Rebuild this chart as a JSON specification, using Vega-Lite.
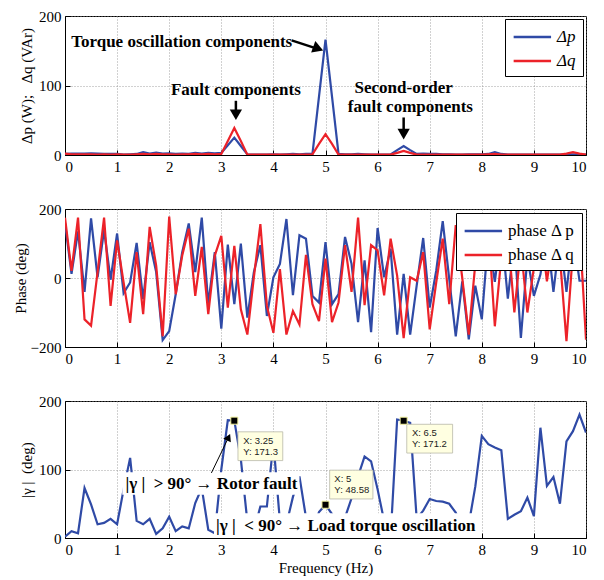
{
  "$schema": "https://vega.github.io/schema/vega-lite/v6.json",
  "background": "white",
  "padding": {"left": 12, "top": 8, "right": 14, "bottom": 4},
  "spacing": 26,
  "config": {
    "font": "Liberation Serif",
    "view": {"stroke": "black", "strokeWidth": 1},
    "axis": {
      "labelFont": "Liberation Serif", "labelFontSize": 15, "labelColor": "black",
      "titleFont": "Liberation Serif", "titleFontSize": 15, "titleFontWeight": "normal", "titleColor": "black",
      "domainColor": "black", "tickColor": "black", "tickSize": -5, "labelPadding": 9,
      "grid": true, "gridColor": "#8a8a8a", "gridDash": [1, 2], "gridWidth": 0.8
    },
    "legend": {
      "orient": "top-right", "offset": 3, "fillColor": "white", "strokeColor": "black",
      "padding": 7, "symbolType": "M-1,0H3", "symbolSize": 350, "symbolStrokeWidth": 2.5,
      "labelFont": "Liberation Serif", "labelFontSize": 17, "labelColor": "black",
      "rowPadding": 5, "labelOffset": 23
    }
  },
  "resolve": {"scale": {"color": "independent", "y": "independent"}, "legend": {"color": "independent"}},
  "datasets": {
    "mag": [
      {"f":0,"s":"Δp","v":1.5},{"f":0.125,"s":"Δp","v":2},{"f":0.25,"s":"Δp","v":2},{"f":0.375,"s":"Δp","v":2},{"f":0.5,"s":"Δp","v":2.5},{"f":0.625,"s":"Δp","v":2},{"f":0.75,"s":"Δp","v":1.5},{"f":0.875,"s":"Δp","v":1.5},{"f":1,"s":"Δp","v":1.5},{"f":1.125,"s":"Δp","v":0.5},{"f":1.25,"s":"Δp","v":1},{"f":1.375,"s":"Δp","v":1.5},{"f":1.5,"s":"Δp","v":4},{"f":1.625,"s":"Δp","v":2},{"f":1.75,"s":"Δp","v":3.5},{"f":1.875,"s":"Δp","v":2},{"f":2,"s":"Δp","v":2.5},{"f":2.125,"s":"Δp","v":1.5},{"f":2.25,"s":"Δp","v":2},{"f":2.375,"s":"Δp","v":1.5},{"f":2.5,"s":"Δp","v":3},{"f":2.625,"s":"Δp","v":2},{"f":2.75,"s":"Δp","v":3},{"f":2.875,"s":"Δp","v":2.5},{"f":3,"s":"Δp","v":3},{"f":3.125,"s":"Δp","v":14},{"f":3.25,"s":"Δp","v":25},{"f":3.375,"s":"Δp","v":13},{"f":3.5,"s":"Δp","v":1},{"f":3.625,"s":"Δp","v":0.5},{"f":3.75,"s":"Δp","v":0.5},{"f":3.875,"s":"Δp","v":0.5},{"f":4,"s":"Δp","v":1},{"f":4.125,"s":"Δp","v":0.5},{"f":4.25,"s":"Δp","v":1},{"f":4.375,"s":"Δp","v":1.5},{"f":4.5,"s":"Δp","v":1},{"f":4.625,"s":"Δp","v":1.5},{"f":4.75,"s":"Δp","v":2},{"f":4.875,"s":"Δp","v":84},{"f":5,"s":"Δp","v":166},{"f":5.125,"s":"Δp","v":84},{"f":5.25,"s":"Δp","v":1.5},{"f":5.375,"s":"Δp","v":1},{"f":5.5,"s":"Δp","v":1},{"f":5.625,"s":"Δp","v":1.5},{"f":5.75,"s":"Δp","v":1},{"f":5.875,"s":"Δp","v":0.5},{"f":6,"s":"Δp","v":0.5},{"f":6.125,"s":"Δp","v":0.5},{"f":6.25,"s":"Δp","v":1},{"f":6.375,"s":"Δp","v":7},{"f":6.5,"s":"Δp","v":13},{"f":6.625,"s":"Δp","v":7},{"f":6.75,"s":"Δp","v":1.5},{"f":6.875,"s":"Δp","v":2},{"f":7,"s":"Δp","v":1.5},{"f":7.125,"s":"Δp","v":1.5},{"f":7.25,"s":"Δp","v":1},{"f":7.375,"s":"Δp","v":1},{"f":7.5,"s":"Δp","v":0.5},{"f":7.625,"s":"Δp","v":0.5},{"f":7.75,"s":"Δp","v":1},{"f":7.875,"s":"Δp","v":1},{"f":8,"s":"Δp","v":1},{"f":8.125,"s":"Δp","v":1.5},{"f":8.25,"s":"Δp","v":4},{"f":8.375,"s":"Δp","v":1.5},{"f":8.5,"s":"Δp","v":0.5},{"f":8.625,"s":"Δp","v":0.5},{"f":8.75,"s":"Δp","v":0.5},{"f":8.875,"s":"Δp","v":0.5},{"f":9,"s":"Δp","v":0.5},{"f":9.125,"s":"Δp","v":0.5},{"f":9.25,"s":"Δp","v":0.5},{"f":9.375,"s":"Δp","v":0.5},{"f":9.5,"s":"Δp","v":0.5},{"f":9.625,"s":"Δp","v":1},{"f":9.75,"s":"Δp","v":1},{"f":9.875,"s":"Δp","v":0.5},{"f":10,"s":"Δp","v":0.5},
      {"f":0,"s":"Δq","v":2},{"f":0.125,"s":"Δq","v":1},{"f":0.25,"s":"Δq","v":1},{"f":0.375,"s":"Δq","v":1},{"f":0.5,"s":"Δq","v":1},{"f":0.625,"s":"Δq","v":0.5},{"f":0.75,"s":"Δq","v":1},{"f":0.875,"s":"Δq","v":0.5},{"f":1,"s":"Δq","v":1},{"f":1.125,"s":"Δq","v":0.5},{"f":1.25,"s":"Δq","v":0.5},{"f":1.375,"s":"Δq","v":1},{"f":1.5,"s":"Δq","v":1.5},{"f":1.625,"s":"Δq","v":1},{"f":1.75,"s":"Δq","v":1.5},{"f":1.875,"s":"Δq","v":1},{"f":2,"s":"Δq","v":1},{"f":2.125,"s":"Δq","v":0.5},{"f":2.25,"s":"Δq","v":1},{"f":2.375,"s":"Δq","v":1},{"f":2.5,"s":"Δq","v":1.5},{"f":2.625,"s":"Δq","v":1},{"f":2.75,"s":"Δq","v":1.5},{"f":2.875,"s":"Δq","v":1},{"f":3,"s":"Δq","v":1.5},{"f":3.125,"s":"Δq","v":20},{"f":3.25,"s":"Δq","v":39},{"f":3.375,"s":"Δq","v":20},{"f":3.5,"s":"Δq","v":0.5},{"f":3.625,"s":"Δq","v":0.5},{"f":3.75,"s":"Δq","v":0.5},{"f":3.875,"s":"Δq","v":0.5},{"f":4,"s":"Δq","v":0.5},{"f":4.125,"s":"Δq","v":0.5},{"f":4.25,"s":"Δq","v":0.5},{"f":4.375,"s":"Δq","v":0.5},{"f":4.5,"s":"Δq","v":0.5},{"f":4.625,"s":"Δq","v":0.5},{"f":4.75,"s":"Δq","v":1},{"f":4.875,"s":"Δq","v":16},{"f":5,"s":"Δq","v":30},{"f":5.125,"s":"Δq","v":16},{"f":5.25,"s":"Δq","v":0.5},{"f":5.375,"s":"Δq","v":0.5},{"f":5.5,"s":"Δq","v":0.5},{"f":5.625,"s":"Δq","v":0.5},{"f":5.75,"s":"Δq","v":0.5},{"f":5.875,"s":"Δq","v":0.5},{"f":6,"s":"Δq","v":0.5},{"f":6.125,"s":"Δq","v":0.5},{"f":6.25,"s":"Δq","v":0.5},{"f":6.375,"s":"Δq","v":3},{"f":6.5,"s":"Δq","v":6},{"f":6.625,"s":"Δq","v":3},{"f":6.75,"s":"Δq","v":0.5},{"f":6.875,"s":"Δq","v":0.5},{"f":7,"s":"Δq","v":0.5},{"f":7.125,"s":"Δq","v":0.5},{"f":7.25,"s":"Δq","v":0.5},{"f":7.375,"s":"Δq","v":0.5},{"f":7.5,"s":"Δq","v":0.5},{"f":7.625,"s":"Δq","v":0.5},{"f":7.75,"s":"Δq","v":0.5},{"f":7.875,"s":"Δq","v":0.5},{"f":8,"s":"Δq","v":0.5},{"f":8.125,"s":"Δq","v":1},{"f":8.25,"s":"Δq","v":1.5},{"f":8.375,"s":"Δq","v":0.5},{"f":8.5,"s":"Δq","v":0.5},{"f":8.625,"s":"Δq","v":0.5},{"f":8.75,"s":"Δq","v":0.5},{"f":8.875,"s":"Δq","v":0.5},{"f":9,"s":"Δq","v":0.5},{"f":9.125,"s":"Δq","v":0.5},{"f":9.25,"s":"Δq","v":0.5},{"f":9.375,"s":"Δq","v":0.5},{"f":9.5,"s":"Δq","v":0.5},{"f":9.625,"s":"Δq","v":2},{"f":9.75,"s":"Δq","v":4},{"f":9.875,"s":"Δq","v":2},{"f":10,"s":"Δq","v":0.5}
    ],
    "phase": [
      {"f":0,"s":"phase Δ p","v":160},{"f":0.125,"s":"phase Δ p","v":12},{"f":0.25,"s":"phase Δ p","v":135},{"f":0.375,"s":"phase Δ p","v":-40},{"f":0.5,"s":"phase Δ p","v":173},{"f":0.625,"s":"phase Δ p","v":2},{"f":0.75,"s":"phase Δ p","v":139},{"f":0.875,"s":"phase Δ p","v":-5},{"f":1,"s":"phase Δ p","v":129},{"f":1.125,"s":"phase Δ p","v":-44},{"f":1.25,"s":"phase Δ p","v":-13},{"f":1.375,"s":"phase Δ p","v":102},{"f":1.5,"s":"phase Δ p","v":-61},{"f":1.625,"s":"phase Δ p","v":104},{"f":1.75,"s":"phase Δ p","v":17},{"f":1.875,"s":"phase Δ p","v":-180},{"f":2,"s":"phase Δ p","v":-154},{"f":2.125,"s":"phase Δ p","v":-47},{"f":2.25,"s":"phase Δ p","v":75},{"f":2.375,"s":"phase Δ p","v":158},{"f":2.5,"s":"phase Δ p","v":17},{"f":2.625,"s":"phase Δ p","v":175},{"f":2.75,"s":"phase Δ p","v":-76},{"f":2.875,"s":"phase Δ p","v":75},{"f":3,"s":"phase Δ p","v":-147},{"f":3.125,"s":"phase Δ p","v":97},{"f":3.25,"s":"phase Δ p","v":-76},{"f":3.375,"s":"phase Δ p","v":100},{"f":3.5,"s":"phase Δ p","v":-115},{"f":3.625,"s":"phase Δ p","v":17},{"f":3.75,"s":"phase Δ p","v":95},{"f":3.875,"s":"phase Δ p","v":-110},{"f":4,"s":"phase Δ p","v":2},{"f":4.125,"s":"phase Δ p","v":41},{"f":4.25,"s":"phase Δ p","v":171},{"f":4.375,"s":"phase Δ p","v":-50},{"f":4.5,"s":"phase Δ p","v":124},{"f":4.625,"s":"phase Δ p","v":114},{"f":4.75,"s":"phase Δ p","v":-52},{"f":4.875,"s":"phase Δ p","v":-71},{"f":5,"s":"phase Δ p","v":104},{"f":5.125,"s":"phase Δ p","v":-76},{"f":5.25,"s":"phase Δ p","v":-47},{"f":5.375,"s":"phase Δ p","v":119},{"f":5.5,"s":"phase Δ p","v":41},{"f":5.625,"s":"phase Δ p","v":-128},{"f":5.75,"s":"phase Δ p","v":51},{"f":5.875,"s":"phase Δ p","v":-157},{"f":6,"s":"phase Δ p","v":145},{"f":6.125,"s":"phase Δ p","v":2},{"f":6.25,"s":"phase Δ p","v":85},{"f":6.375,"s":"phase Δ p","v":-164},{"f":6.5,"s":"phase Δ p","v":12},{"f":6.625,"s":"phase Δ p","v":-164},{"f":6.75,"s":"phase Δ p","v":-22},{"f":6.875,"s":"phase Δ p","v":116},{"f":7,"s":"phase Δ p","v":-86},{"f":7.125,"s":"phase Δ p","v":21},{"f":7.25,"s":"phase Δ p","v":165},{"f":7.375,"s":"phase Δ p","v":-3},{"f":7.5,"s":"phase Δ p","v":-169},{"f":7.625,"s":"phase Δ p","v":-10},{"f":7.75,"s":"phase Δ p","v":-178},{"f":7.875,"s":"phase Δ p","v":-22},{"f":8,"s":"phase Δ p","v":-120},{"f":8.125,"s":"phase Δ p","v":120},{"f":8.25,"s":"phase Δ p","v":-11},{"f":8.375,"s":"phase Δ p","v":140},{"f":8.5,"s":"phase Δ p","v":-60},{"f":8.625,"s":"phase Δ p","v":110},{"f":8.75,"s":"phase Δ p","v":-174},{"f":8.875,"s":"phase Δ p","v":60},{"f":9,"s":"phase Δ p","v":-52},{"f":9.125,"s":"phase Δ p","v":10},{"f":9.25,"s":"phase Δ p","v":130},{"f":9.375,"s":"phase Δ p","v":-40},{"f":9.5,"s":"phase Δ p","v":120},{"f":9.625,"s":"phase Δ p","v":-40},{"f":9.75,"s":"phase Δ p","v":130},{"f":9.875,"s":"phase Δ p","v":-8},{"f":10,"s":"phase Δ p","v":-8},
      {"f":0,"s":"phase Δ q","v":175},{"f":0.125,"s":"phase Δ q","v":21},{"f":0.25,"s":"phase Δ q","v":175},{"f":0.375,"s":"phase Δ q","v":-120},{"f":0.5,"s":"phase Δ q","v":-138},{"f":0.625,"s":"phase Δ q","v":17},{"f":0.75,"s":"phase Δ q","v":175},{"f":0.875,"s":"phase Δ q","v":-81},{"f":1,"s":"phase Δ q","v":109},{"f":1.125,"s":"phase Δ q","v":-13},{"f":1.25,"s":"phase Δ q","v":-130},{"f":1.375,"s":"phase Δ q","v":75},{"f":1.5,"s":"phase Δ q","v":-105},{"f":1.625,"s":"phase Δ q","v":148},{"f":1.75,"s":"phase Δ q","v":36},{"f":1.875,"s":"phase Δ q","v":-169},{"f":2,"s":"phase Δ q","v":178},{"f":2.125,"s":"phase Δ q","v":-47},{"f":2.25,"s":"phase Δ q","v":65},{"f":2.375,"s":"phase Δ q","v":143},{"f":2.5,"s":"phase Δ q","v":-52},{"f":2.625,"s":"phase Δ q","v":90},{"f":2.75,"s":"phase Δ q","v":-105},{"f":2.875,"s":"phase Δ q","v":65},{"f":3,"s":"phase Δ q","v":122},{"f":3.125,"s":"phase Δ q","v":-86},{"f":3.25,"s":"phase Δ q","v":93},{"f":3.375,"s":"phase Δ q","v":-91},{"f":3.5,"s":"phase Δ q","v":-164},{"f":3.625,"s":"phase Δ q","v":2},{"f":3.75,"s":"phase Δ q","v":156},{"f":3.875,"s":"phase Δ q","v":-81},{"f":4,"s":"phase Δ q","v":-159},{"f":4.125,"s":"phase Δ q","v":26},{"f":4.25,"s":"phase Δ q","v":-164},{"f":4.375,"s":"phase Δ q","v":-96},{"f":4.5,"s":"phase Δ q","v":-135},{"f":4.625,"s":"phase Δ q","v":67},{"f":4.75,"s":"phase Δ q","v":-76},{"f":4.875,"s":"phase Δ q","v":-125},{"f":5,"s":"phase Δ q","v":56},{"f":5.125,"s":"phase Δ q","v":-128},{"f":5.25,"s":"phase Δ q","v":-71},{"f":5.375,"s":"phase Δ q","v":95},{"f":5.5,"s":"phase Δ q","v":-40},{"f":5.625,"s":"phase Δ q","v":175},{"f":5.75,"s":"phase Δ q","v":-79},{"f":5.875,"s":"phase Δ q","v":95},{"f":6,"s":"phase Δ q","v":80},{"f":6.125,"s":"phase Δ q","v":-50},{"f":6.25,"s":"phase Δ q","v":114},{"f":6.375,"s":"phase Δ q","v":7},{"f":6.5,"s":"phase Δ q","v":-174},{"f":6.625,"s":"phase Δ q","v":2},{"f":6.75,"s":"phase Δ q","v":-8},{"f":6.875,"s":"phase Δ q","v":75},{"f":7,"s":"phase Δ q","v":-149},{"f":7.125,"s":"phase Δ q","v":-13},{"f":7.25,"s":"phase Δ q","v":114},{"f":7.375,"s":"phase Δ q","v":-76},{"f":7.5,"s":"phase Δ q","v":153},{"f":7.625,"s":"phase Δ q","v":0},{"f":7.75,"s":"phase Δ q","v":-164},{"f":7.875,"s":"phase Δ q","v":41},{"f":8,"s":"phase Δ q","v":80},{"f":8.125,"s":"phase Δ q","v":150},{"f":8.25,"s":"phase Δ q","v":-140},{"f":8.375,"s":"phase Δ q","v":60},{"f":8.5,"s":"phase Δ q","v":130},{"f":8.625,"s":"phase Δ q","v":-100},{"f":8.75,"s":"phase Δ q","v":90},{"f":8.875,"s":"phase Δ q","v":-100},{"f":9,"s":"phase Δ q","v":30},{"f":9.125,"s":"phase Δ q","v":150},{"f":9.25,"s":"phase Δ q","v":-10},{"f":9.375,"s":"phase Δ q","v":120},{"f":9.5,"s":"phase Δ q","v":60},{"f":9.625,"s":"phase Δ q","v":-183},{"f":9.75,"s":"phase Δ q","v":80},{"f":9.875,"s":"phase Δ q","v":150},{"f":10,"s":"phase Δ q","v":-179}
    ],
    "gamma": [
      {"f":0,"v":2},{"f":0.125,"v":10},{"f":0.25,"v":7},{"f":0.375,"v":73},{"f":0.5,"v":49},{"f":0.625,"v":20},{"f":0.75,"v":22},{"f":0.875,"v":28},{"f":1,"v":20},{"f":1.125,"v":71},{"f":1.25,"v":117},{"f":1.375,"v":25},{"f":1.5,"v":20},{"f":1.625,"v":28},{"f":1.75,"v":6},{"f":1.875,"v":14},{"f":2,"v":31},{"f":2.125,"v":10},{"f":2.25,"v":17},{"f":2.375,"v":14},{"f":2.5,"v":51},{"f":2.625,"v":73},{"f":2.75,"v":12},{"f":2.875,"v":7},{"f":3,"v":100},{"f":3.125,"v":172},{"f":3.25,"v":171.3},{"f":3.375,"v":115},{"f":3.5,"v":24},{"f":3.625,"v":10},{"f":3.75,"v":46},{"f":3.875,"v":46},{"f":4,"v":140},{"f":4.125,"v":24},{"f":4.25,"v":20},{"f":4.375,"v":60},{"f":4.5,"v":90},{"f":4.625,"v":30},{"f":4.75,"v":10},{"f":4.875,"v":38},{"f":5,"v":48.58},{"f":5.125,"v":35},{"f":5.25,"v":10},{"f":5.375,"v":30},{"f":5.5,"v":58},{"f":5.625,"v":90},{"f":5.75,"v":119},{"f":5.875,"v":112},{"f":6,"v":71},{"f":6.125,"v":25},{"f":6.25,"v":2},{"f":6.375,"v":173},{"f":6.5,"v":171.2},{"f":6.625,"v":168},{"f":6.75,"v":28},{"f":6.875,"v":40},{"f":7,"v":57},{"f":7.125,"v":54},{"f":7.25,"v":53},{"f":7.375,"v":50},{"f":7.5,"v":37},{"f":7.625,"v":15},{"f":7.75,"v":20},{"f":7.875,"v":75},{"f":8,"v":149},{"f":8.125,"v":137},{"f":8.25,"v":132},{"f":8.375,"v":128},{"f":8.5,"v":28},{"f":8.625,"v":34},{"f":8.75,"v":39},{"f":8.875,"v":59},{"f":9,"v":32},{"f":9.125,"v":161},{"f":9.25,"v":76},{"f":9.375,"v":89},{"f":9.5,"v":50},{"f":9.625,"v":141},{"f":9.75,"v":156},{"f":9.875,"v":180},{"f":10,"v":154}
    ],
    "topText": [
      {"x":2.24,"y":162,"t":"Torque oscillation components"},
      {"x":3.28,"y":93,"t":"Fault components"},
      {"x":6.5,"y":96,"t":"Second-order"},
      {"x":6.63,"y":69,"t":"fault components"}
    ],
    "topArrows": [
      {"x1":4.35,"y1":165,"x2":4.88,"y2":152,"hx":4.86,"hy":153,"a":110},
      {"x1":3.28,"y1":78,"x2":3.28,"y2":60,"hx":3.28,"hy":58,"a":180},
      {"x1":6.5,"y1":54,"x2":6.5,"y2":33,"hx":6.5,"hy":30,"a":180}
    ],
    "botBoxes": [
      {"x1":1.1,"x2":4.5,"y1":63,"y2":96},
      {"x1":2.86,"x2":7.83,"y1":0,"y2":36}
    ],
    "botText": [
      {"x":1.16,"y":79,"t":"|γ |\u00a0\u00a0> 90° → Rotor fault"},
      {"x":2.9,"y":18,"t":"|γ |\u00a0\u00a0< 90° → Load torque oscillation"}
    ],
    "botArrow": [
      {"x1":2.81,"y1":95,"x2":3.14,"y2":147,"hx":3.14,"hy":147,"a":25}
    ],
    "tips": [
      {"x1":3.32,"x2":4.18,"y1":113,"y2":155},
      {"x1":5.08,"x2":5.91,"y1":57,"y2":99},
      {"x1":6.56,"x2":7.44,"y1":124,"y2":166}
    ],
    "tipText": [
      {"x":3.42,"y":142,"t":"X: 3.25"},{"x":3.42,"y":126,"t":"Y: 171.3"},
      {"x":5.17,"y":86,"t":"X: 5"},{"x":5.17,"y":70,"t":"Y: 48.58"},
      {"x":6.66,"y":153,"t":"X: 6.5"},{"x":6.66,"y":137,"t":"Y: 171.2"}
    ],
    "markers": [
      {"f":3.25,"v":171.3},{"f":5,"v":48.58},{"f":6.5,"v":171.2}
    ]
  },
  "vconcat": [
    {
      "width": 521, "height": 139,
      "layer": [
        {
          "data": {"name": "mag"},
          "mark": {"type": "line", "strokeWidth": 2.2, "clip": true},
          "encoding": {
            "x": {"field": "f", "type": "quantitative", "scale": {"domain": [0, 10], "nice": false}, "axis": {"values": [0,1,2,3,4,5,6,7,8,9,10], "title": null}},
            "y": {"field": "v", "type": "quantitative", "scale": {"domain": [0, 200], "nice": false}, "axis": {"values": [0, 100, 200], "title": "Δp (W);\u00a0\u00a0\u00a0Δq (VAr)", "titlePadding": 4}},
            "color": {"field": "s", "type": "nominal", "scale": {"domain": ["Δp", "Δq"], "range": ["#2f4aa6", "#ec2229"]}, "legend": {"title": null, "labelFontStyle": "italic"}}
          }
        },
        {
          "data": {"name": "topText"},
          "mark": {"type": "text", "font": "Liberation Serif", "fontWeight": "bold", "fontSize": 17, "color": "black", "align": "center", "baseline": "middle"},
          "encoding": {"x": {"field": "x", "type": "quantitative"}, "y": {"field": "y", "type": "quantitative"}, "text": {"field": "t"}}
        },
        {
          "data": {"name": "topArrows"},
          "mark": {"type": "rule", "strokeWidth": 2.5, "color": "black"},
          "encoding": {"x": {"field": "x1", "type": "quantitative"}, "x2": {"field": "x2"}, "y": {"field": "y1", "type": "quantitative"}, "y2": {"field": "y2"}}
        },
        {
          "data": {"name": "topArrows"},
          "mark": {"type": "point", "shape": "triangle-up", "filled": true, "color": "black", "opacity": 1, "size": 150},
          "encoding": {"x": {"field": "hx", "type": "quantitative"}, "y": {"field": "hy", "type": "quantitative"}, "angle": {"field": "a", "type": "quantitative", "scale": null}}
        }
      ]
    },
    {
      "width": 521, "height": 138,
      "layer": [
        {
          "data": {"name": "phase"},
          "mark": {"type": "line", "strokeWidth": 2.2, "clip": true},
          "encoding": {
            "x": {"field": "f", "type": "quantitative", "scale": {"domain": [0, 10], "nice": false}, "axis": {"values": [0,1,2,3,4,5,6,7,8,9,10], "title": null}},
            "y": {"field": "v", "type": "quantitative", "scale": {"domain": [-200, 200], "nice": false}, "axis": {"values": [-200, 0, 200], "title": "Phase (deg)", "titlePadding": 2}},
            "color": {"field": "s", "type": "nominal", "scale": {"domain": ["phase Δ p", "phase Δ q"], "range": ["#2f4aa6", "#ec2229"]}, "legend": {"title": null, "labelFontSize": 17, "offset": 4}}
          }
        }
      ]
    },
    {
      "width": 521, "height": 137,
      "layer": [
        {
          "data": {"name": "gamma"},
          "mark": {"type": "line", "strokeWidth": 2.2, "color": "#2f4aa6", "clip": true},
          "encoding": {
            "x": {"field": "f", "type": "quantitative", "scale": {"domain": [0, 10], "nice": false}, "axis": {"values": [0,1,2,3,4,5,6,7,8,9,10], "title": "Frequency (Hz)", "titlePadding": 3}},
            "y": {"field": "v", "type": "quantitative", "scale": {"domain": [0, 200], "nice": false}, "axis": {"values": [0, 100, 200], "title": "|γ |\u00a0\u00a0(deg)", "titlePadding": 4}}
          }
        },
        {
          "data": {"name": "botBoxes"},
          "mark": {"type": "rect", "color": "white", "opacity": 1},
          "encoding": {"x": {"field": "x1", "type": "quantitative"}, "x2": {"field": "x2"}, "y": {"field": "y1", "type": "quantitative"}, "y2": {"field": "y2"}}
        },
        {
          "data": {"name": "tips"},
          "mark": {"type": "rect", "fill": "#ffffe1", "stroke": "#b8b8a8", "strokeWidth": 0.8},
          "encoding": {"x": {"field": "x1", "type": "quantitative"}, "x2": {"field": "x2"}, "y": {"field": "y1", "type": "quantitative"}, "y2": {"field": "y2"}}
        },
        {
          "data": {"name": "tipText"},
          "mark": {"type": "text", "font": "Liberation Sans", "fontSize": 9.5, "color": "#222222", "align": "left", "baseline": "middle"},
          "encoding": {"x": {"field": "x", "type": "quantitative"}, "y": {"field": "y", "type": "quantitative"}, "text": {"field": "t"}}
        },
        {
          "data": {"name": "markers"},
          "mark": {"type": "square", "filled": true, "color": "black", "opacity": 1, "size": 50, "stroke": "#f5f5a0", "strokeWidth": 1},
          "encoding": {"x": {"field": "f", "type": "quantitative"}, "y": {"field": "v", "type": "quantitative"}}
        },
        {
          "data": {"name": "botText"},
          "mark": {"type": "text", "font": "Liberation Serif", "fontWeight": "bold", "fontSize": 17, "color": "black", "align": "left", "baseline": "middle"},
          "encoding": {"x": {"field": "x", "type": "quantitative"}, "y": {"field": "y", "type": "quantitative"}, "text": {"field": "t"}}
        },
        {
          "data": {"name": "botArrow"},
          "mark": {"type": "rule", "strokeWidth": 1, "color": "black"},
          "encoding": {"x": {"field": "x1", "type": "quantitative"}, "x2": {"field": "x2"}, "y": {"field": "y1", "type": "quantitative"}, "y2": {"field": "y2"}}
        },
        {
          "data": {"name": "botArrow"},
          "mark": {"type": "point", "shape": "triangle-up", "filled": true, "color": "black", "opacity": 1, "size": 70},
          "encoding": {"x": {"field": "hx", "type": "quantitative"}, "y": {"field": "hy", "type": "quantitative"}, "angle": {"field": "a", "type": "quantitative", "scale": null}}
        }
      ]
    }
  ]
}
